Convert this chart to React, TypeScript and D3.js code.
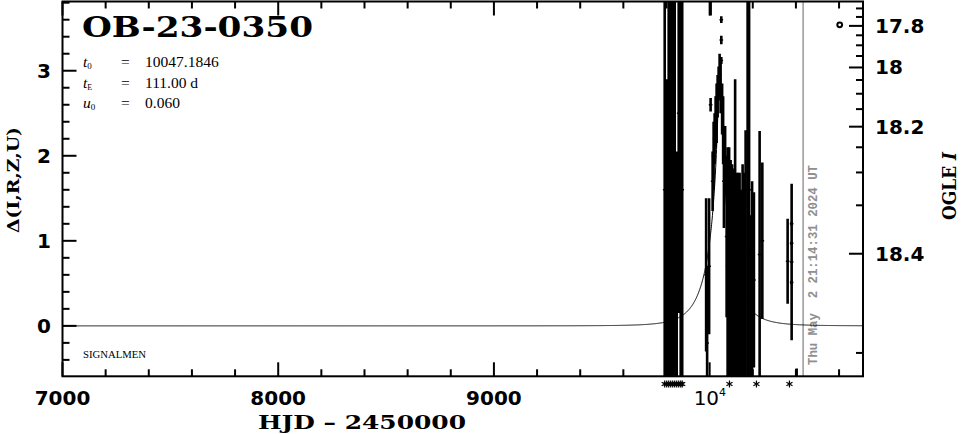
import React from "react";
import * as d3 from "d3";

// ---- axes / model parameters ----
const xDomain: [number, number] = [7000, 10711];
const yDomain: [number, number] = [-0.593, 3.814];
const t0 = 10047.1846;
const tE = 111.0;
const u0 = 0.06;
const baseMag = 18.441;
const blendFrac = 0.0325;
const nowT = 10433.4;

const xMajorTicks = [7000, 8000, 9000, 10000];
const xTickLabels = ["7000", "8000", "9000", "10"];
const yMajorTicks = [0, 1, 2, 3];
const yTickLabels = ["0", "1", "2", "3"];
const magMajorTicks = [17.8, 18, 18.2, 18.4];
const magTickLabels = ["17.8", "18", "18.2", "18.4"];
const magMinorTicks = [17.7, 17.75, 17.85, 17.9, 17.95, 18.05, 18.1, 18.15, 18.25, 18.3, 18.35, 18.45];

// ---- observations: HJD-2450000, Δ, error ----
const obsT = [
  9791.7, 9801.0, 9810.2, 9819.5, 9828.8, 9838.1, 9847.3, 9856.6, 9865.9, 9872.9,
  9983.8, 9988.4, 9997.6, 10004.6, 10004.6,
  10054.1, 10054.1, 10054.1,
  10013.9, 10018.5, 10023.2, 10027.8, 10032.4, 10037.1, 10041.7, 10046.3, 10050.9, 10057.9, 10062.6, 10066.3, 10071.8, 10078.8,
  10083.4, 10090.4, 10097.3, 10104.3, 10111.2, 10118.2, 10125.1, 10132.1, 10139.0, 10146.0, 10152.9, 10159.9, 10166.8, 10176.1, 10183.0, 10190.0, 10196.9,
  10205.3, 10231.8, 10244.3, 10361.6, 10380.2, 10380.2, 10380.2, 10380.2, 10403.4,
];
const obsD = [
  1.6, 0.5, 1.6, 1.6, 1.6, 1.6, 0.2, 2.5, 1.6, 1.6,
  0.6, -0.2, 0.7, 2.6, 3.9,
  3.6, 3.36, 3.12,
  1.7, 2.0, 2.2, 2.4, 2.5, 2.7, 2.85, 2.95, 2.8, 2.55, 2.3, 1.7, 1.95, 1.05,
  0.7, 0.75, 0.65, 0.6, 0.6, 1.1, 0.55, 0.6, 0.55, 0.5, 0.65, 0.6, 0.85, 1.6, 1.6, 0.3, 0.5,
  0.54, 0.84, 1.0, 0.76, 0.75, 1.2, 0.97, 0.51, -0.7,
];
const obsE = [
  4.5, 2.4, 4.5, 4.5, 4.5, 4.5, 1.85, 2.35, 4.5, 4.5,
  0.9, 0.9, 0.8, 0.08, 0.25,
  0.04, 0.05, 0.04,
  0.35, 0.4, 0.3, 0.3, 0.35, 0.25, 0.2, 0.25, 0.3, 0.3, 0.4, 0.55, 0.4, 0.95,
  1.4, 1.35, 1.3, 1.3, 1.25, 1.8, 1.25, 1.2, 1.25, 1.1, 1.25, 1.2, 1.45, 3.0, 3.0, 1.0, 1.2,
  1.03, 1.45, 0.92, 0.5, 0.92, 0.02, 0.02, 0.02, 0.2,
];
const starT = [
  9791.7, 9801.0, 9810.2, 9819.5, 9828.8, 9838.1, 9847.3, 9856.6, 9865.9, 9872.9,
  10092, 10217, 10370,
];
const legendT = 10603;
const legendD = 3.54;

const PL = 62.5, PR = 863, PT = 1.5, PB = 376.3;
const SANS = "'DejaVu Sans', sans-serif";
const SERIF = "'DejaVu Serif', serif";
const LSERIF = "'Liberation Serif', serif";
const MONO = "'Liberation Mono', monospace";

function magToDelta(m: number) {
  const f = Math.pow(10, -0.4 * (m - baseMag));
  return 2.5 * Math.log10(1 + (f - 1) / blendFrac);
}

function modelDelta(t: number) {
  const tau = (t - t0) / tE;
  const u = Math.sqrt(u0 * u0 + tau * tau);
  const A = (u * u + 2) / (u * Math.sqrt(u * u + 4));
  return 2.5 * Math.log10(A);
}

export default function App() {
  const x = d3.scaleLinear().domain(xDomain).range([PL, PR]);
  const y = d3.scaleLinear().domain(yDomain).range([PB, PT]);

  const xMinor = d3.range(7200, 10711, 200).filter((v) => v % 1000 !== 0);
  const yMinor = d3.range(-4, 39, 2).map((v) => v / 10).filter((v) => Math.abs(v - Math.round(v)) > 1e-6);

  const ts = d3.range(xDomain[0], xDomain[1], 1);
  const line = d3.line<number>().x((t) => x(t)).y((t) => y(modelDelta(t)));

  const star = (cx: number, cy: number, r: number) => {
    const a = Math.PI / 6;
    const dx = r * Math.cos(a), dy = r * Math.sin(a);
    return `M${cx},${cy - r}L${cx},${cy + r}M${cx - dx},${cy - dy}L${cx + dx},${cy + dy}M${cx - dx},${cy + dy}L${cx + dx},${cy - dy}`;
  };

  return (
    <svg width={966} height={434} style={{ position: "absolute", left: 0, top: 0, background: "#fff" }}>
      <defs>
        <clipPath id="plotclip">
          <rect x={PL} y={PT} width={PR - PL} height={PB - PT} />
        </clipPath>
      </defs>
      <rect x={0} y={0} width={966} height={434} fill="#fff" />

      {/* now line */}
      <line x1={x(nowT)} x2={x(nowT)} y1={PT} y2={PB} stroke="#999" strokeWidth={1.5} />
      <text
        transform={`translate(${x(nowT) + 14},365) rotate(-90)`}
        fontFamily={MONO}
        fontWeight="bold"
        fontSize={13.5}
        fill="#8f8f8f"
        textLength={200}
        lengthAdjust="spacingAndGlyphs"
        style={{ whiteSpace: "pre" }}
      >
        {"Thu May  2 21:14:31 2024 UT"}
      </text>

      <g clipPath="url(#plotclip)">
        <path d={line(ts) || ""} fill="none" stroke="#000" strokeWidth={1} />
        {obsT.map((t, i) => (
          <g key={i}>
            <line x1={x(t)} x2={x(t)} y1={y(obsD[i] + obsE[i])} y2={y(obsD[i] - obsE[i])} stroke="#000" strokeWidth={2.6} />
            <line x1={x(t) - 1.8} x2={x(t) + 1.8} y1={y(obsD[i])} y2={y(obsD[i])} stroke="#000" strokeWidth={1.5} />
          </g>
        ))}
      </g>

      {/* legend circle */}
      <circle cx={x(legendT)} cy={y(legendD)} r={2.4} fill="none" stroke="#000" strokeWidth={2} />

      {/* frame */}
      <rect x={PL} y={PT} width={PR - PL} height={PB - PT} fill="none" stroke="#000" strokeWidth={2} />

      {/* x ticks */}
      {xMajorTicks.map((v) => (
        <g key={"xm" + v}>
          <line x1={x(v)} x2={x(v)} y1={PB} y2={PB - 14} stroke="#000" strokeWidth={2} />
          <line x1={x(v)} x2={x(v)} y1={PT} y2={PT + 14} stroke="#000" strokeWidth={2} />
        </g>
      ))}
      {xMinor.map((v) => (
        <g key={"xn" + v}>
          <line x1={x(v)} x2={x(v)} y1={PB} y2={PB - 7} stroke="#000" strokeWidth={2} />
          <line x1={x(v)} x2={x(v)} y1={PT} y2={PT + 7} stroke="#000" strokeWidth={2} />
        </g>
      ))}
      {xMajorTicks.map((v, i) =>
        i < 3 ? (
          <text key={"xl" + v} x={x(v)} y={405} textAnchor="middle" fontFamily={SANS} fontWeight="bold" fontSize={20}>
            {xTickLabels[i]}
          </text>
        ) : (
          <text key={"xl" + v} x={x(v) - 16} y={405} fontFamily={SANS} fontSize={20}>
            {xTickLabels[i]}
            <tspan fontSize={11} dy={-9}>4</tspan>
          </text>
        )
      )}

      {/* stars below axis */}
      {starT.map((t, i) => (
        <path key={"s" + i} d={star(x(t), 384, 3.5)} stroke="#000" strokeWidth={1.2} fill="none" />
      ))}

      {/* left ticks */}
      {yMajorTicks.map((v, i) => (
        <g key={"ym" + v}>
          <line x1={PL} x2={PL + 14} y1={y(v)} y2={y(v)} stroke="#000" strokeWidth={2} />
          <text x={51} y={y(v) + 7} textAnchor="end" fontFamily={SANS} fontWeight="bold" fontSize={20}>
            {yTickLabels[i]}
          </text>
        </g>
      ))}
      {yMinor.map((v) => (
        <line key={"yn" + v} x1={PL} x2={PL + 7} y1={y(v)} y2={y(v)} stroke="#000" strokeWidth={2} />
      ))}

      {/* right magnitude ticks */}
      {magMajorTicks.map((m, i) => (
        <g key={"mm" + m}>
          <line x1={PR} x2={PR - 14} y1={y(magToDelta(m))} y2={y(magToDelta(m))} stroke="#000" strokeWidth={2} />
          <text x={875} y={y(magToDelta(m)) + 7} fontFamily={SANS} fontWeight="bold" fontSize={20}>
            {magTickLabels[i]}
          </text>
        </g>
      ))}
      {magMinorTicks.map((m) => (
        <line key={"mn" + m} x1={PR} x2={PR - 7} y1={y(magToDelta(m))} y2={y(magToDelta(m))} stroke="#000" strokeWidth={2} />
      ))}

      {/* title & params */}
      <text x={82} y={37} fontFamily={SERIF} fontWeight="bold" fontSize={27} textLength={231} lengthAdjust="spacingAndGlyphs">
        OB-23-0350
      </text>
      <g fontFamily={LSERIF} fontSize={15.5}>
        <text x={83} y={67}>
          <tspan fontStyle="italic">t</tspan>
          <tspan fontSize={9} dy={2}>0</tspan>
        </text>
        <text x={121} y={67}>=</text>
        <text x={145} y={67}>10047.1846</text>
        <text x={83} y={88}>
          <tspan fontStyle="italic">t</tspan>
          <tspan fontSize={8} dy={2}>E</tspan>
        </text>
        <text x={121} y={88}>=</text>
        <text x={145} y={88}>111.00 d</text>
        <text x={83} y={108}>
          <tspan fontStyle="italic">u</tspan>
          <tspan fontSize={9} dy={2}>0</tspan>
        </text>
        <text x={121} y={108}>=</text>
        <text x={145} y={108}>0.060</text>
      </g>
      <text x={83} y={358} fontFamily={LSERIF} fontSize={11} textLength={63} lengthAdjust="spacingAndGlyphs">
        SIGNALMEN
      </text>

      {/* axis labels */}
      <text x={258} y={429} fontFamily={SERIF} fontWeight="bold" fontSize={18} textLength={208} lengthAdjust="spacingAndGlyphs" style={{ whiteSpace: "pre" }}>
        {"HJD – 2450000"}
      </text>
      <text transform="translate(19,180) rotate(-90)" textAnchor="middle" fontFamily={SERIF} fontWeight="bold" fontSize={17} textLength={106} lengthAdjust="spacingAndGlyphs">
        Δ(I,R,Z,U)
      </text>
      <text transform="translate(956,186) rotate(-90)" textAnchor="middle" fontFamily={SERIF} fontWeight="bold" fontSize={18} textLength={68} lengthAdjust="spacingAndGlyphs">
        OGLE <tspan fontStyle="italic">I</tspan>
      </text>
    </svg>
  );
}
